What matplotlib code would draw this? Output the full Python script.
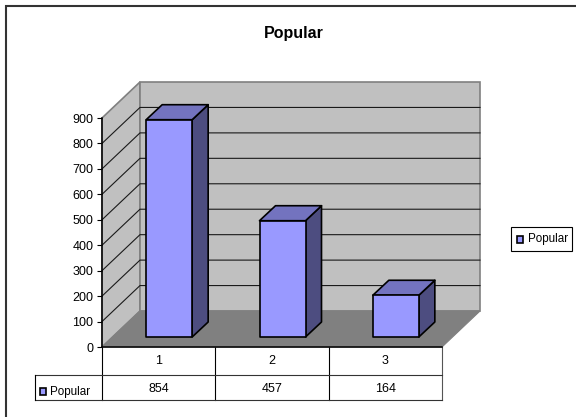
import matplotlib
matplotlib.use("Agg")
import matplotlib.pyplot as plt
from matplotlib.patches import Polygon, Rectangle
from matplotlib.transforms import blended_transform_factory

plt.rcParams["font.family"] = ["Liberation Sans", "DejaVu Sans"]

# chart values
categories = ["1", "2", "3"]
popular = [854, 457, 164]
series_name = "Popular"
y_ticks = [0, 100, 200, 300, 400, 500, 600, 700, 800, 900]

W, H = 576, 417
fig = plt.figure(figsize=(W / 100, H / 100), dpi=100, facecolor="white")

# page layer in pixels, for the outer frame, table rules and legend box
page = fig.add_axes([0, 0, 1, 1])
page.set_xlim(0, W)
page.set_ylim(H, 0)
page.axis("off")

# front plane of the 3d box
left, right, bottom, top = 102, 442, 347, 118
ax = fig.add_axes([left / W, 1 - bottom / H, (right - left) / W, (bottom - top) / H])
ax.set_xlim(0, len(categories))
ax.set_ylim(0, 900)
ax.patch.set_visible(False)

# depth of the box and of the bars, in data units
px_x = len(categories) / (right - left)
px_y = 900 / (bottom - top)
depth_x, depth_y = 38 * px_x, 36 * px_y
bar_dx, bar_dy = 16 * px_x, 15 * px_y
shift_x, shift_y = 10.5 * px_x, 10 * px_y
bar_w = 46 * px_x
n = len(categories)

# walls and floor
ax.add_patch(Polygon([(0, 0), (depth_x, depth_y), (depth_x, 900 + depth_y), (0, 900)],
                     fc="#C0C0C0", ec="#808080", lw=1.2, clip_on=False, zorder=1))
ax.add_patch(Polygon([(depth_x, depth_y), (n + depth_x, depth_y),
                      (n + depth_x, 900 + depth_y), (depth_x, 900 + depth_y)],
                     fc="#C0C0C0", ec="#808080", lw=1.2, clip_on=False, zorder=1))
ax.add_patch(Polygon([(0, 0), (n, 0), (n + depth_x, depth_y), (depth_x, depth_y)],
                     fc="#808080", ec="#808080", lw=0.8, clip_on=False, zorder=2))

# gridlines run along the side wall and then the back wall
for v in y_ticks[1:-1]:
    ax.plot([0, depth_x, n + depth_x], [v, v + depth_y, v + depth_y],
            color="#1a1a1a", lw=0.8, clip_on=False, zorder=3)

# 3d bars
for i, v in enumerate(popular):
    x0 = i + 0.5 + shift_x - bar_w / 2
    x1 = x0 + bar_w
    y0 = shift_y
    y1 = shift_y + v
    style = dict(ec="black", lw=1.2, joinstyle="round", clip_on=False, zorder=4)
    ax.add_patch(Polygon([(x1, y0), (x1 + bar_dx, y0 + bar_dy), (x1 + bar_dx, y1 + bar_dy), (x1, y1)],
                         fc="#4D4D80", **style))
    ax.add_patch(Polygon([(x0, y1), (x1, y1), (x1 + bar_dx, y1 + bar_dy), (x0 + bar_dx, y1 + bar_dy)],
                         fc="#7373BF", **style))
    ax.add_patch(Rectangle((x0, y0), bar_w, v, fc="#9999FF", **style))

# axes
for side in ["top", "right"]:
    ax.spines[side].set_visible(False)
for side in ["left", "bottom"]:
    ax.spines[side].set_color("black")
    ax.spines[side].set_linewidth(1.1)
    ax.spines[side].set_zorder(5)
ax.set_xticks([])
ax.set_yticks(y_ticks)
ax.tick_params(axis="y", length=3.6, width=0.8, pad=2.5, labelsize=9, colors="black")

# title
page.text(293.5, 33, series_name, fontsize=11.5, fontweight="bold", ha="center", va="center")

# outer frame, only top and left show
page.plot([6, 6, W], [H, 6, 6], color="#333333", lw=1.5, solid_joinstyle="miter")

# data table under the chart
row_top, row_mid, row_bot, table_left = 347, 375, 400, 35
for i in range(n + 1):
    x = left + i * (right - left) / n
    page.plot([x, x], [row_top, row_bot], color="black" if i < n else "#555555", lw=0.8)
page.plot([table_left, right], [row_mid, row_mid], color="#333333", lw=0.8)
page.plot([table_left, right], [row_bot, row_bot], color="#333333", lw=0.8)
page.plot([table_left, table_left], [row_mid, row_bot], color="black", lw=0.8)

cell = blended_transform_factory(ax.transData, page.transData)
for i, (c, v) in enumerate(zip(categories, popular)):
    page.text(i + 0.5, 361, c, transform=cell, fontsize=9, ha="center", va="center")
    page.text(i + 0.5, 389, str(v), transform=cell, fontsize=9, ha="center", va="center")
page.add_patch(Rectangle((40, 388), 6, 7, fc="#9999FF", ec="black", lw=1.2))
page.text(50, 392, series_name, fontsize=8.4, ha="left", va="center")

# legend box on the right
page.add_patch(Rectangle((511, 227), 61, 24, fc="white", ec="black", lw=0.8))
page.add_patch(Rectangle((517, 236), 6, 7, fc="#9999FF", ec="black", lw=1.2))
page.text(528, 239, series_name, fontsize=8.4, ha="left", va="center")

fig.savefig("out.png", dpi=100, facecolor="white")
